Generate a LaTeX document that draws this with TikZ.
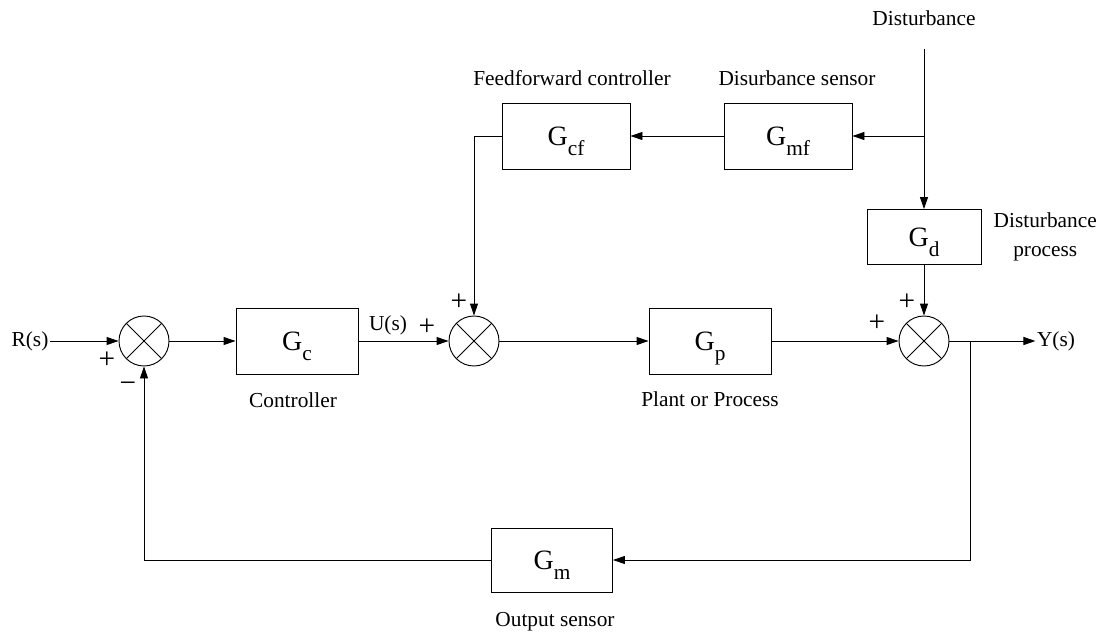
\documentclass[tikz,border=0pt]{standalone}
\usepackage{fontspec}
\setmainfont{Liberation Serif}
\usetikzlibrary{arrows.meta,positioning}
\newcommand{\gsub}[1]{G\raisebox{-8pt}[0pt][0pt]{\fontsize{16}{16}\selectfont #1}}

\begin{document}
\begin{tikzpicture}[
  x=0.75pt, y=-0.75pt,
  block/.style={draw, line width=0.7pt, minimum width=91.5pt, minimum height=49.5pt, font=\fontsize{21}{24}\selectfont, inner sep=0pt},
  sumnode/.style={draw, circle, line width=0.7pt, minimum size=37.5pt, inner sep=0pt,
    path picture={\draw[line width=0.7pt] (path picture bounding box.north west) -- (path picture bounding box.south east)
      (path picture bounding box.north east) -- (path picture bounding box.south west);}},
  lbl/.style={font=\fontsize{16}{22}\selectfont, align=center, inner sep=1pt},
  sgn/.style={font=\fontsize{22}{22}\selectfont, inner sep=0pt},
  arr/.style={-{Triangle[length=9pt, width=6pt]}, line width=0.7pt},
  wire/.style={line width=0.7pt},
]
\useasboundingbox (0,0) rectangle (1104,635);

% main loop
\node[lbl] (rs) at (30,341) {R(s)};
\node[sumnode] (s1) at (144,341) {};
\node[block] (gc) at (297,341) {\gsub{c}};
\node[sumnode] (s2) at (474,341) {};
\node[block] (gp) at (710,341) {\gsub{p}};
\node[sumnode] (s3) at (924,341) {};
\coordinate (br) at (970,341);
\node[lbl] (ys) at (1056,341) {Y(s)};
\node[block, minimum width=90.75pt, minimum height=48pt] (gm) at (552,560) {\gsub{m}};

% feedforward path
\node[lbl] (dist) at (924,18) {Disturbance};
\coordinate (dtop) at (924,49);
\coordinate (dbr) at (924,136);
\node[block, minimum width=96pt] (gmf) at (788,136) {\gsub{mf}};
\node[block, minimum width=96pt] (gcf) at (566,136) {\gsub{cf}};
\node[block, minimum width=85.5pt, minimum height=41.25pt] (gd) at (924,237) {\gsub{d}};

% labels
\node[lbl] at (293,400) {Controller};
\node[lbl] at (710,399) {Plant or Process};
\node[lbl] at (555,622) {Output sensor};
\node[lbl] at (572,78) {Feedforward controller};
\node[lbl] at (797,78) {Disurbance sensor};
\node[lbl, right=8pt of gd] {Disturbance\\process};
\node[lbl] at (388,325) {U(s)};

% signs
\node[sgn] at (107,360) {+};
\node[sgn] at (128,387) {−};
\node[sgn] at (427,327) {+};
\node[sgn] at (459,302) {+};
\node[sgn] at (877,323) {+};
\node[sgn] at (907,302) {+};

% connectors
\draw[arr] (rs) -- (s1);
\draw[arr] (s1) -- (gc);
\draw[arr] (gc) -- (s2);
\draw[arr] (s2) -- (gp);
\draw[arr] (gp) -- (s3);
\draw[wire] (s3) -- (br);
\draw[arr] (br) -- (ys);
\draw[arr] (br) |- (gm);
\draw[arr] (gm) -| (s1);
\draw[arr] (dtop) -- (gd);
\draw[arr] (dbr) -- (gmf);
\draw[arr] (gmf) -- (gcf);
\draw[arr] (gcf) -| (s2);
\draw[arr] (gd) -- (s3);
\end{tikzpicture}
\end{document}
